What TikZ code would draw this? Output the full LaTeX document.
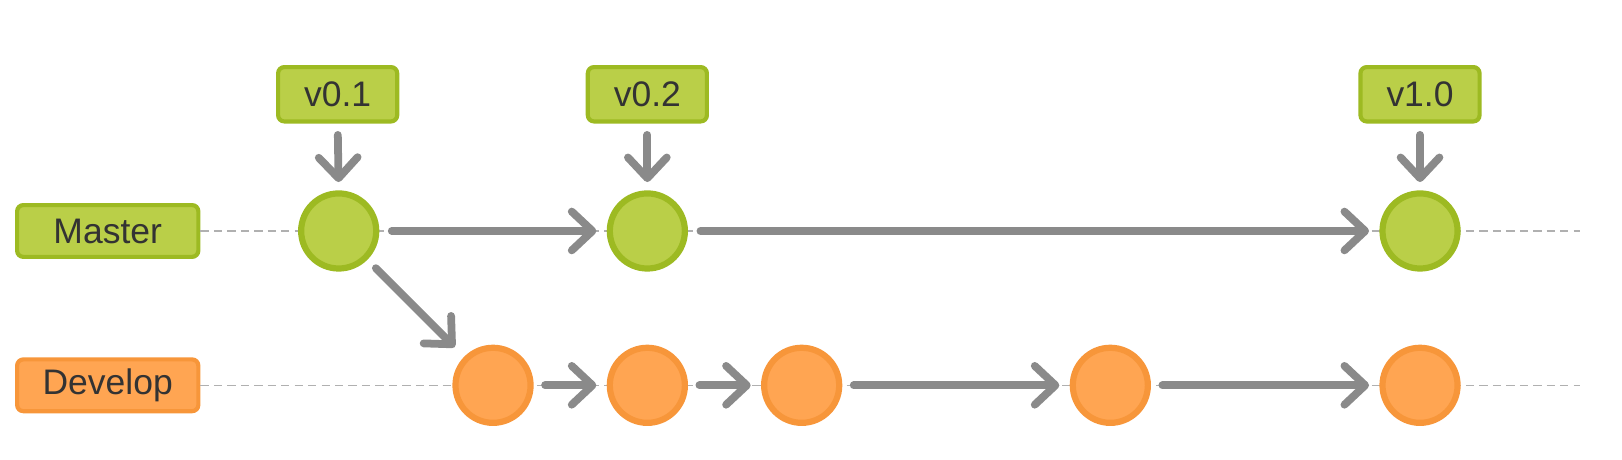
\documentclass[tikz,border=0pt]{standalone}
\usepackage{fontspec}
\setmainfont{Liberation Sans}
\usetikzlibrary{arrows.meta}
\definecolor{gfill}{HTML}{BACF48}
\definecolor{gline}{HTML}{9DBA22}
\definecolor{ofill}{HTML}{FFA552}
\definecolor{oline}{HTML}{F7963A}
\definecolor{arr}{HTML}{8A8A8A}
\definecolor{dsh}{HTML}{B0B0B0}
\definecolor{txt}{HTML}{333333}
\begin{document}
\begin{tikzpicture}[x=0.02cm,y=-0.02cm,
  branchbox/.style={draw=#1line,fill=#1fill,line width=0.08cm,rounded corners=0.12cm,
    minimum width=3.5cm,minimum height=1.0cm,inner sep=0pt,text=txt,font=\fontsize{19.5}{22}\selectfont},
  tagbox/.style={draw=gline,fill=gfill,line width=0.08cm,rounded corners=0.12cm,
    minimum width=2.3cm,minimum height=1.05cm,inner sep=0pt,text=txt,font=\fontsize{19.5}{22}\selectfont},
  commit/.style={circle,draw=#1line,fill=#1fill,line width=0.12cm,minimum size=1.45cm,inner sep=0pt},
  flow/.style={draw=arr,line width=0.15cm,line cap=round,
    -{Straight Barb[length=0.4cm,width=0.75cm,line width=0.15cm,round]},shorten >=0.2cm},
  guide/.style={draw=dsh,line width=0.03cm,dash pattern=on 0.16cm off 0.1cm}]
\useasboundingbox (0,0) rectangle (1566,444);
% labels
\node[branchbox=g] (master) at (104,223) {Master};
\node[branchbox=o] (develop) at (104,372) {Develop};
\coordinate (mend) at (1525,223);
\coordinate (dend) at (1525,372);
\draw[guide] (master.east) -- (mend);
\draw[guide] (develop.east) -- (dend);
% master commits
\node[commit=g] (m1) at (327,223) {};
\node[commit=g] (m2) at (625,223) {};
\node[commit=g] (m3) at (1371,223) {};
% develop commits
\node[commit=o] (d1) at (476,372) {};
\node[commit=o] (d2) at (625,372) {};
\node[commit=o] (d3) at (774,372) {};
\node[commit=o] (d4) at (1072,372) {};
\node[commit=o] (d5) at (1371,372) {};
% tags
\node[tagbox] (t1) at (326,91) {v0.1};
\node[tagbox] (t2) at (625,91) {v0.2};
\node[tagbox] (t3) at (1371,91) {v1.0};
% tag arrows
\draw[flow,shorten <=0.22cm,shorten >=0.16cm] (t1.south) -- (m1.north);
\draw[flow,shorten <=0.22cm,shorten >=0.16cm] (t2.south) -- (m2.north);
\draw[flow,shorten <=0.22cm,shorten >=0.16cm] (t3.south) -- (m3.north);
% master flow
\draw[flow,shorten <=0.24cm] (m1.east) -- (m2.west);
\draw[flow,shorten <=0.24cm] (m2.east) -- (m3.west);
% branch
\draw[flow,shorten <=0.23cm,shorten >=0.26cm] (m1.-45) -- (d1.135);
% develop flow
\draw[flow,shorten <=0.22cm] (d1.east) -- (d2.west);
\draw[flow,shorten <=0.22cm] (d2.east) -- (d3.west);
\draw[flow,shorten <=0.22cm] (d3.east) -- (d4.west);
\draw[flow,shorten <=0.22cm] (d4.east) -- (d5.west);
\end{tikzpicture}
\end{document}
